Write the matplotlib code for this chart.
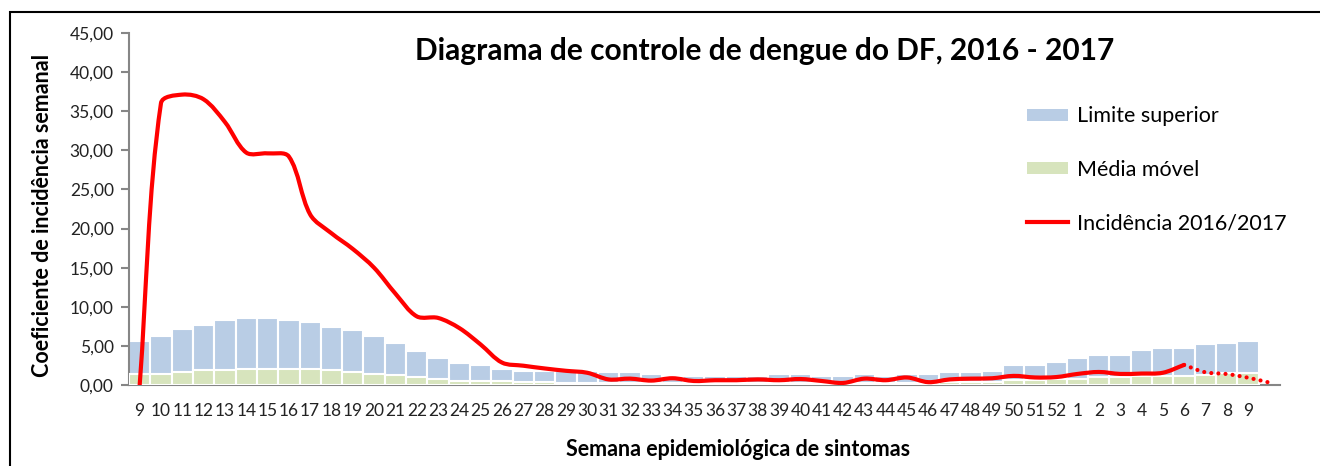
import numpy as np
import matplotlib.pyplot as plt
from matplotlib.path import Path
from matplotlib.patches import PathPatch, Patch, Rectangle
from matplotlib.lines import Line2D
from matplotlib.ticker import FuncFormatter

plt.rcParams['font.family'] = ['Lato', 'DejaVu Sans']

# semanas epidemiologicas (ultima categoria sem rotulo)
semanas = [str(s) for s in range(9, 53)] + [str(s) for s in range(1, 10)] + ['']

limite_superior = [5.66, 6.34, 7.23, 7.70, 8.34, 8.60, 8.60, 8.34, 8.13, 7.45,
                   7.02, 6.34, 5.45, 4.34, 3.45, 2.81, 2.55, 2.10, 1.86, 1.86,
                   1.86, 1.86, 1.65, 1.65, 1.43, 1.17, 1.17, 1.17, 1.17, 1.17,
                   1.43, 1.43, 1.17, 1.17, 1.43, 1.17, 1.43, 1.43, 1.65, 1.65,
                   1.86, 2.55, 2.55, 2.98, 3.45, 3.87, 3.87, 4.55, 4.77, 4.77,
                   5.28, 5.44, 5.70]

media_movel = [1.50, 1.50, 1.70, 1.96, 1.96, 2.13, 2.13, 2.13, 2.13, 1.96,
               1.70, 1.50, 1.28, 1.02, 0.78, 0.58, 0.58, 0.58, 0.45, 0.40,
               0.35, 0.35, 0.30, 0.30, 0.30, 0.28, 0.28, 0.28, 0.28, 0.28,
               0.30, 0.30, 0.28, 0.28, 0.30, 0.30, 0.35, 0.35, 0.40, 0.40,
               0.45, 0.62, 0.64, 0.77, 0.80, 1.02, 1.02, 1.15, 1.23, 1.23,
               1.32, 1.57, 1.60]

incidencia = [0.0, 36.0, 37.1, 36.5, 33.6, 29.7, 29.6, 29.2, 21.8, 19.4,
              17.4, 15.0, 11.7, 8.8, 8.6, 7.3, 5.2, 2.9, 2.5, 2.15,
              1.85, 1.6, 0.75, 0.85, 0.6, 0.9, 0.55, 0.65, 0.65, 0.75,
              0.65, 0.8, 0.55, 0.3, 0.85, 0.65, 1.0, 0.4, 0.75, 0.85,
              0.9, 1.2, 1.0, 1.05, 1.45, 1.7, 1.45, 1.5, 1.6, 2.6]

# projecao (pontilhado) a partir da semana 6
projecao = [2.6, 1.66, 1.44, 0.97, 0.35]

azul = '#B9CDE5'
verde = '#D7E4BD'
vermelho = '#FF0000'


def smooth_path(xs, ys, aspect=2.72):
    # curva suave estilo Excel: bezier com controles proporcionais ao comprimento dos trechos
    P = np.column_stack([np.asarray(xs, float), np.asarray(ys, float)])
    n = len(P)
    S = P * [aspect, 1.0]
    L = np.hypot(*np.diff(S, axis=0).T)
    verts = [tuple(P[0])]
    codes = [Path.MOVETO]
    for i in range(n - 1):
        a = max(i - 1, 0)
        b = min(i + 2, n - 1)
        La = L[i - 1] if i > 0 else 0.0
        Lb = L[i + 1] if i + 1 < n - 1 else 0.0
        c1 = P[i] + (P[i + 1] - P[a]) * L[i] / (La + L[i]) / 3
        c2 = P[i + 1] - (P[b] - P[i]) * L[i] / (L[i] + Lb) / 3
        verts += [tuple(c1), tuple(c2), tuple(P[i + 1])]
        codes += [Path.CURVE4] * 3
    return Path(verts, codes)


fig = plt.figure(figsize=(13.2, 4.66), dpi=100)
ax = fig.add_axes([129 / 1320, 1 - 385.3 / 466, (1280 - 129) / 1320, (385.3 - 32.7) / 466])

x = np.arange(len(limite_superior))
ax.bar(x, limite_superior, width=1.0, color=azul, edgecolor='white', linewidth=1.5, zorder=2)
ax.bar(x, media_movel, width=1.0, color=verde, edgecolor='white', linewidth=1.5, zorder=3)

xi = np.arange(len(incidencia))
ax.add_patch(PathPatch(smooth_path(xi, incidencia), facecolor='none', edgecolor=vermelho,
                       linewidth=3, capstyle='round', joinstyle='round', zorder=5))

xp = np.arange(len(projecao)) + len(incidencia) - 1
pp = PathPatch(smooth_path(xp, projecao), facecolor='none', edgecolor=vermelho,
               linewidth=3, linestyle=(0, (0.01, 1.7)), zorder=5)
pp.set_capstyle('round')
ax.add_patch(pp)

ax.set_xlim(-0.5, len(semanas) - 0.5)
ax.set_ylim(0, 45)
ax.set_yticks(np.arange(0, 46, 5))
ax.yaxis.set_major_formatter(FuncFormatter(lambda v, p: f'{v:.2f}'.replace('.', ',')))
ax.set_xticks(np.arange(len(semanas)))
ax.set_xticklabels(semanas)

for s in ['top', 'right']:
    ax.spines[s].set_visible(False)
for s in ['left', 'bottom']:
    ax.spines[s].set_color('#868686')
    ax.spines[s].set_linewidth(1.5)
ax.tick_params(axis='y', direction='out', length=6, width=1.5, color='#868686',
               labelsize=12.5, pad=5, labelcolor='#222222')
ax.tick_params(axis='x', length=0, labelsize=12.5, pad=13, labelcolor='#222222')

fig.text(43 / 1320, 1 - 215 / 466, 'Coeficiente de incidência semanal', fontsize=15.5,
         fontweight='bold', rotation=90, ha='center', va='center')
fig.text(738 / 1320, 1 - 450 / 466, 'Semana epidemiológica de sintomas', fontsize=15.5,
         fontweight='bold', ha='center', va='center')
fig.text(765 / 1320, 1 - 51 / 466, 'Diagrama de controle de dengue do DF, 2016 - 2017',
         fontsize=21.5, fontweight='bold', ha='center', va='center')

handles = [Patch(facecolor=azul), Patch(facecolor=verde),
           Line2D([0], [0], color=vermelho, linewidth=3)]
labels = ['Limite superior', 'Média móvel', 'Incidência 2016/2017']
ax.legend(handles, labels, loc='upper left', bbox_to_anchor=(1008 / 1320, 1 - 87 / 466),
          bbox_transform=fig.transFigure, frameon=False, fontsize=15.5,
          labelspacing=1.55, handlelength=1.9, handleheight=0.5, handletextpad=0.42)

fig.add_artist(Rectangle((10 / 1320, -0.1), 1.2, 1.1 - 12 / 466, transform=fig.transFigure,
                         facecolor='none', edgecolor='black', linewidth=1.5))

fig.savefig('out.png', dpi=100)
